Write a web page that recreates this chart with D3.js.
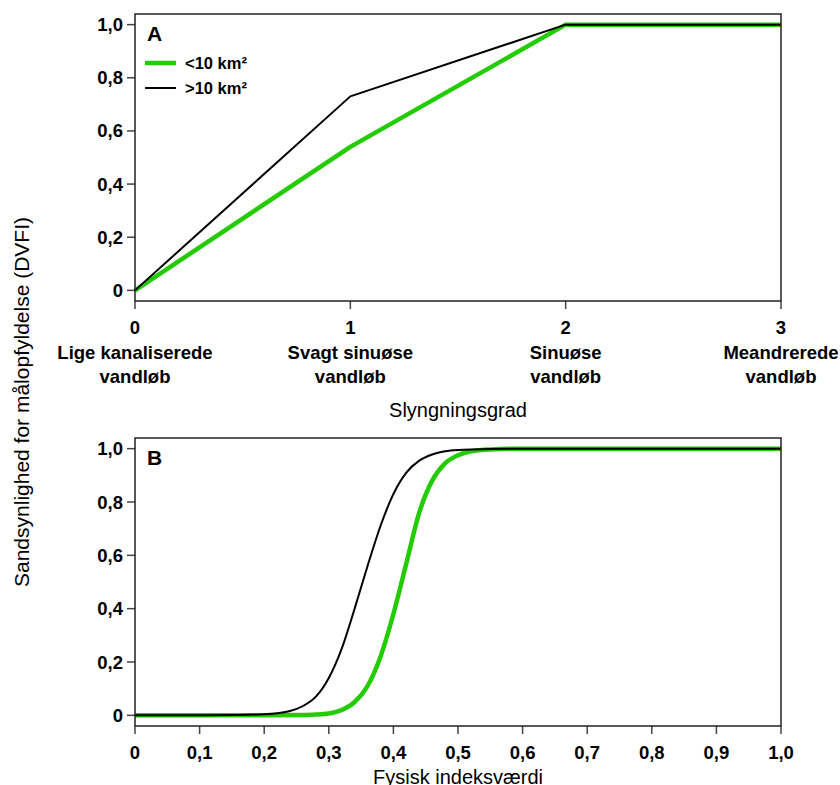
<!DOCTYPE html>
<html>
<head>
<meta charset="utf-8">
<script src="https://cdn.jsdelivr.net/npm/d3@7"></script>
<style>
  body { margin: 0; background: #fff; }
  svg { font-family: "Liberation Sans", Arial, sans-serif; }
  .tick-lbl { font-size: 18.5px; font-weight: bold; }
  .cat-lbl { font-size: 18.5px; font-weight: bold; }
  .ax-title { font-size: 20px; }
</style>
</head>
<body>
<svg id="chart" width="840" height="785"></svg>
<script>
let svg = d3.select('#chart');

// Panel A - slyngningsgrad
let sinuosity = [0, 1, 2, 3];
let smallA = [0, 0.54, 1.0, 1.0];   // <10 km2
let largeA = [0, 0.73, 1.0, 1.0];   // >10 km2
let catLines = [['Lige kanaliserede', 'vandløb'], ['Svagt sinuøse', 'vandløb'],
                ['Sinuøse', 'vandløb'], ['Meandrerede', 'vandløb']];

// Panel B - fysisk indeksværdi
let indexSmall = [0, 0.1, 0.2, 0.25, 0.28, 0.30, 0.32, 0.34, 0.36, 0.38, 0.40, 0.42, 0.44, 0.46, 0.48, 0.50, 0.52, 0.55, 0.6, 0.7, 0.8, 0.9, 1.0];
let probSmall  = [0, 0, 0, 0.001, 0.003, 0.007, 0.02, 0.05, 0.11, 0.22, 0.38, 0.57, 0.76, 0.88, 0.945, 0.975, 0.99, 0.997, 1, 1, 1, 1, 1];
let indexLarge = [0, 0.1, 0.15, 0.2, 0.22, 0.24, 0.26, 0.28, 0.30, 0.32, 0.34, 0.36, 0.38, 0.40, 0.42, 0.44, 0.46, 0.48, 0.50, 0.55, 0.6, 0.7, 0.8, 0.9, 1.0];
let probLarge  = [0, 0, 0.001, 0.004, 0.008, 0.016, 0.035, 0.07, 0.14, 0.25, 0.40, 0.56, 0.71, 0.83, 0.91, 0.955, 0.978, 0.99, 0.995, 0.999, 1, 1, 1, 1, 1];

let yTicks = [0, 0.2, 0.4, 0.6, 0.8, 1.0];
let xTicksB = d3.range(0, 11).map(d => d / 10);

let left = 135, right = 781;
let green = '#22cc00';
let fmt = d => d === 0 ? '0' : d3.format('.1f')(d).replace('.', ',');

function drawPanel(top, bottom, xDomain, xTicks, xFmt, series, letter) {
    let x = d3.scaleLinear().domain(xDomain).range([left, right]);
    let y = d3.scaleLinear().domain([-0.04, 1.04]).range([bottom, top]);
    let g = svg.append('g');

    // y axis ticks
    g.selectAll('.ytick').data(yTicks).join('line')
        .attr('x1', left - 8).attr('x2', left)
        .attr('y1', d => y(d)).attr('y2', d => y(d))
        .attr('stroke', '#444').attr('stroke-width', 1.5);
    g.selectAll('.ylbl').data(yTicks).join('text')
        .attr('class', 'tick-lbl')
        .attr('x', left - 12).attr('y', d => y(d) + 6.5)
        .attr('text-anchor', 'end')
        .text(fmt);

    // x ticks
    g.selectAll('.xtick').data(xTicks).join('line')
        .attr('x1', d => x(d)).attr('x2', d => x(d))
        .attr('y1', bottom).attr('y2', bottom + 8)
        .attr('stroke', '#444').attr('stroke-width', 1.5);
    g.selectAll('.xlbl').data(xTicks).join('text')
        .attr('class', 'tick-lbl')
        .attr('x', d => x(d)).attr('y', bottom + 33)
        .attr('text-anchor', 'middle')
        .text(xFmt);

    let line = d3.line().x(d => x(d[0])).y(d => y(d[1]));
    series.forEach(s => {
        g.append('path')
            .datum(d3.zip(s.xs, s.ys))
            .attr('fill', 'none')
            .attr('stroke', s.color)
            .attr('stroke-width', s.width)
            .attr('stroke-linejoin', 'round')
            .attr('d', line.curve(s.curve));
    });

    // frame
    g.append('rect')
        .attr('x', left).attr('y', top)
        .attr('width', right - left).attr('height', bottom - top)
        .attr('fill', 'none').attr('stroke', '#222').attr('stroke-width', 1.5);

    g.append('text')
        .attr('x', left + 12).attr('y', top + 27)
        .style('font-size', '21px').style('font-weight', 'bold')
        .text(letter);
    return {x, y};
}

drawPanel(14, 301, [0, 3], sinuosity, d => d, [
    {xs: sinuosity, ys: smallA, color: green, width: 4.5, curve: d3.curveLinear},
    {xs: sinuosity, ys: largeA, color: '#000', width: 2, curve: d3.curveLinear}
], 'A');

// category labels under panel A
let xA = d3.scaleLinear().domain([0, 3]).range([left, right]);
catLines.forEach((lines, i) => {
    lines.forEach((t, j) => {
        svg.append('text')
            .attr('class', 'cat-lbl')
            .attr('x', xA(sinuosity[i])).attr('y', 359 + j * 24)
            .attr('text-anchor', 'middle')
            .text(t);
    });
});

// legend
let legend = [{label: '<10 km²', color: green, width: 4.5}, {label: '>10 km²', color: '#000', width: 2}];
legend.forEach((d, i) => {
    let ly = 63 + i * 25;
    svg.append('line')
        .attr('x1', 145).attr('x2', 176).attr('y1', ly).attr('y2', ly)
        .attr('stroke', d.color).attr('stroke-width', d.width);
    svg.append('text')
        .attr('x', 185).attr('y', ly + 6)
        .style('font-size', '16.5px').style('font-weight', 'bold')
        .text(d.label);
});

drawPanel(438, 726, [0, 1], xTicksB, fmt, [
    {xs: indexSmall, ys: probSmall, color: green, width: 4.5, curve: d3.curveMonotoneX},
    {xs: indexLarge, ys: probLarge, color: '#000', width: 2, curve: d3.curveMonotoneX}
], 'B');

// axis titles
svg.append('text').attr('class', 'ax-title')
    .attr('x', (left + right) / 2).attr('y', 417)
    .attr('text-anchor', 'middle').text('Slyngningsgrad');
svg.append('text').attr('class', 'ax-title')
    .attr('x', (left + right) / 2).attr('y', 784)
    .attr('text-anchor', 'middle').text('Fysisk indeksværdi');
svg.append('text').attr('class', 'ax-title')
    .style('font-size', '21px')
    .attr('transform', 'translate(29,402) rotate(-90)')
    .attr('text-anchor', 'middle').text('Sandsynlighed for målopfyldelse (DVFI)');
</script>
</body>
</html>
